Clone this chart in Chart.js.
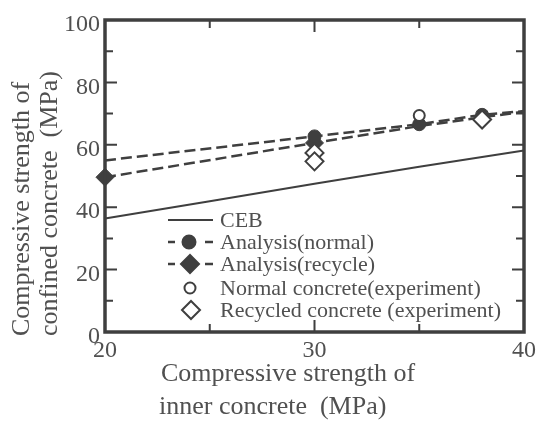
<!DOCTYPE html>
<html><head><meta charset="utf-8">
<script src="https://cdn.jsdelivr.net/npm/chart.js@4.4.0/dist/chart.umd.min.js"></script>
<style>html,body{margin:0;padding:0;background:#fff}canvas{display:block}</style>
</head><body><canvas id="c" width="542" height="426"></canvas>
<script>
// ---- data ----
const cebX = [20, 25, 30, 35, 40];
const cebY = [36.4, 41.9, 47.5, 53.0, 58.2];
const anaX = [20, 30, 35, 38, 40];
const anaNormalY = [55.0, 62.7, 66.6, 69.6, 70.8];
const anaRecycleY = [49.6, 60.6, 66.0, 68.8, 70.6];
const anaNormalMarks = [0, 1, 1, 1, 0];
const anaRecycleMarks = [1, 1, 0, 0, 0];
const expNormalX = [35];
const expNormalY = [69.4];
const expRecycledX = [30, 30, 38];
const expRecycledY = [57.4, 54.7, 68.1];
const xTickValues = [20, 30, 40];
const yTickValues = [0, 20, 40, 60, 80, 100];
const legendLabels = ['CEB', 'Analysis(normal)', 'Analysis(recycle)', 'Normal concrete(experiment)', 'Recycled concrete (experiment)'];
const xTitle = ['Compressive strength of', 'inner concrete  (MPa)'];
const yTitle = ['Compressive strength of', 'confined concrete  (MPa)'];

const pts = (xs, ys) => xs.map((x, i) => ({x: x, y: ys[i]}));
const INK = '#3f3f3f';
const TXT = '#505050';
const FONT = "'Liberation Serif', 'Times New Roman', serif";

function drawMarker(ctx, kind, x, y) {
  ctx.save();
  ctx.lineWidth = 2;
  ctx.strokeStyle = INK;
  ctx.beginPath();
  if (kind === 'fcircle' || kind === 'ocircle') {
    const r = kind === 'fcircle' ? 6.5 : 5.5;
    ctx.arc(x, y, r, 0, Math.PI * 2);
  } else {
    const r = 9;
    ctx.moveTo(x - r, y); ctx.lineTo(x, y - r); ctx.lineTo(x + r, y); ctx.lineTo(x, y + r); ctx.closePath();
  }
  if (kind[0] === 'f') { ctx.fillStyle = INK; ctx.fill(); }
  else { ctx.fillStyle = '#fff'; ctx.fill(); }
  ctx.stroke();
  ctx.restore();
}

const decor = {
  id: 'decor',
  afterDraw(chart) {
    const ctx = chart.ctx, a = chart.chartArea;
    const xs = chart.scales.x, ys = chart.scales.y;
    ctx.save();
    // inward ticks
    ctx.strokeStyle = INK; ctx.lineWidth = 2;
    [25, 30, 35].forEach(v => {
      const px = xs.getPixelForValue(v);
      const len = xTickValues.includes(v) ? 12 : 8;
      ctx.beginPath();
      ctx.moveTo(px, a.bottom); ctx.lineTo(px, a.bottom - len);
      ctx.moveTo(px, a.top); ctx.lineTo(px, a.top + len);
      ctx.stroke();
    });
    for (let v = 10; v < 100; v += 10) {
      const py = ys.getPixelForValue(v);
      const len = yTickValues.includes(v) ? 12 : 8;
      ctx.beginPath();
      ctx.moveTo(a.left, py); ctx.lineTo(a.left + len, py);
      ctx.moveTo(a.right, py); ctx.lineTo(a.right - len, py);
      ctx.stroke();
    }
    // frame
    ctx.lineWidth = 3.5;
    ctx.strokeRect(a.left, a.top, a.right - a.left, a.bottom - a.top);

    // legend
    ctx.font = '22px ' + FONT;
    ctx.fillStyle = TXT;
    ctx.textAlign = 'left';
    ctx.textBaseline = 'middle';
    const rows = [220, 242, 264, 288, 310];
    const lx0 = 168, lx1 = 213, mx = 190, tx = 220;
    // CEB
    ctx.lineWidth = 2; ctx.setLineDash([]);
    ctx.beginPath(); ctx.moveTo(lx0, rows[0]); ctx.lineTo(lx1, rows[0]); ctx.stroke();
    // analysis dashes
    [1, 2].forEach(i => {
      ctx.lineWidth = 2.5;
      ctx.beginPath();
      ctx.moveTo(lx0, rows[i]); ctx.lineTo(lx0 + 7, rows[i]);
      ctx.moveTo(lx1 - 8, rows[i]); ctx.lineTo(lx1, rows[i]);
      ctx.stroke();
    });
    drawMarker(ctx, 'fcircle', mx - 1, rows[1]);
    drawMarker(ctx, 'fdiamond', mx, rows[2]);
    drawMarker(ctx, 'ocircle', mx, rows[3]);
    drawMarker(ctx, 'odiamond', mx + 1, rows[4]);
    legendLabels.forEach((t, i) => ctx.fillText(t, tx, rows[i] + 1));

    // axis titles
    ctx.font = '26px ' + FONT;
    ctx.fillText(xTitle[0], 161, 374);
    ctx.fillText(xTitle[1], 159, 407);
    ctx.save();
    ctx.translate(0, 336);
    ctx.rotate(-Math.PI / 2);
    ctx.fillText(yTitle[0], 0, 22);
    ctx.fillText(yTitle[1], 0, 50);
    ctx.restore();
    ctx.restore();
  }
};

new Chart(document.getElementById('c'), {
  type: 'scatter',
  data: {
    datasets: [
      { label: legendLabels[4], data: pts(expRecycledX, expRecycledY), order: 0, clip: false,
        pointStyle: 'rectRot', pointRadius: 9, pointBorderWidth: 2, borderColor: INK, backgroundColor: '#fff', showLine: false },
      { label: legendLabels[3], data: pts(expNormalX, expNormalY), order: 1, clip: false,
        pointStyle: 'circle', pointRadius: 5.5, pointBorderWidth: 2, borderColor: INK, backgroundColor: '#fff', showLine: false },
      { label: legendLabels[1], data: pts(anaX, anaNormalY), order: 2, clip: false, showLine: true,
        borderColor: INK, backgroundColor: INK, borderWidth: 2.5, borderDash: [11, 5],
        pointStyle: 'circle', pointRadius: anaNormalMarks.map(m => m ? 6.5 : 0), pointBorderWidth: 1 },
      { label: legendLabels[2], data: pts(anaX, anaRecycleY), order: 3, clip: false, showLine: true,
        borderColor: INK, backgroundColor: INK, borderWidth: 2.5, borderDash: [11, 5],
        pointStyle: 'rectRot', pointRadius: anaRecycleMarks.map(m => m ? 9 : 0), pointBorderWidth: 1 },
      { label: legendLabels[0], data: pts(cebX, cebY), order: 4, clip: false, showLine: true,
        borderColor: INK, borderWidth: 2, pointRadius: 0 }
    ]
  },
  options: {
    responsive: false,
    animation: false,
    devicePixelRatio: 1,
    layout: { padding: { top: 20, right: 18, left: 0, bottom: 0 } },
    plugins: { legend: { display: false }, tooltip: { enabled: false } },
    scales: {
      x: {
        type: 'linear', min: 20, max: 40,
        afterBuildTicks: s => { s.ticks = xTickValues.map(v => ({value: v})); },
        afterFit: s => { s.height = 94; },
        grid: { display: false, drawTicks: false },
        border: { display: false },
        ticks: { color: TXT, padding: 4, font: { family: FONT, size: 24 } }
      },
      y: {
        type: 'linear', min: 0, max: 100,
        afterBuildTicks: s => { s.ticks = yTickValues.map(v => ({value: v})); },
        afterFit: s => { s.width = 105; },
        grid: { display: false, drawTicks: false },
        border: { display: false },
        ticks: { color: TXT, padding: 5, labelOffset: 5, font: { family: FONT, size: 24 } }
      }
    }
  },
  plugins: [decor]
});
</script>
</body></html>
